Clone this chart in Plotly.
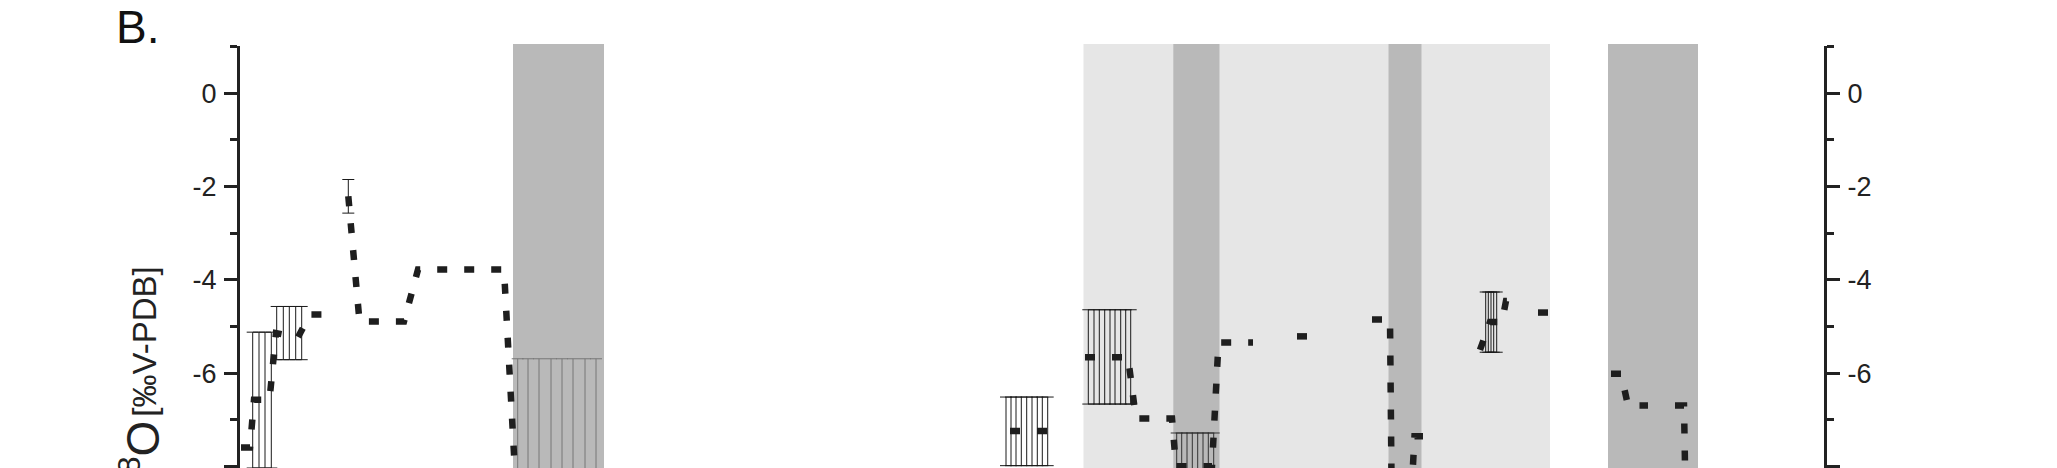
import plotly.graph_objects as go

# d18O record, x in depth units of the (hidden) bottom axis; None = gap in the record
depth = [0.1, 1.0, 1.4, 2.95, 3.6, 5.8, 7.0, 8.6, None,
         10.83, 11.95, 16.4, 17.8, 26.4, 28.1, None,
         77.0, 80.8, None,
         84.5, 88.8, 89.6, 93.2, 93.6, 97.2, 97.85, 101.3, None,
         105.7, 106.7, None,
         113.2, 115.0, 115.25, None,
         117.3, 117.45, 118.4, None,
         124.0, 125.0, 126.2, 126.6, 127.0, None,
         129.8, 130.8, None,
         137.1, 138.1, 138.8, 140.8, None,
         143.5, 144.4, 144.7]
d18o = [-7.59, -7.59, -6.57, -6.57, -5.14, -5.23, -4.74, -4.74, None,
        -2.21, -4.89, -4.89, -3.78, -3.78, -10.5, None,
        -7.24, -7.24, None,
        -5.66, -5.66, -6.97, -6.97, -7.99, -7.99, -5.34, -5.34, None,
        -5.21, -5.21, None,
        -4.85, -4.85, -10.5, None,
        -7.96, -7.35, -7.35, None,
        -5.5, -4.9, -4.9, -4.45, -4.45, None,
        -4.7, -4.7, None,
        -6.01, -6.01, -6.69, -6.69, None,
        -6.69, -6.69, -10.5]

# error ranges (top / bottom of the bars) for groups of samples
err_groups = [
    # depths, top, bottom, colour
    ([1.27, 1.9, 2.5, 3.13], -5.12, -8.03, "#1a1a1a"),
    ([3.67, 4.33, 4.93, 5.57, 6.17], -4.57, -5.71, "#1a1a1a"),
    ([10.83], -1.85, -2.57, "#1a1a1a"),
    ([27.77, 28.8, 29.9, 31.1, 32.2, 33.3, 34.5, 35.6], -5.69, -12.0, "#777777"),
    ([76.6, 77.1, 77.6, 78.13, 78.67, 79.2, 79.73, 80.23, 80.77], -6.51, -7.98, "#1a1a1a"),
    ([84.83, 85.4, 85.93, 86.47, 87.0, 87.5, 88.07, 88.57, 89.07], -4.64, -6.66, "#1a1a1a"),
    ([93.67, 94.17, 94.7, 95.23, 95.77, 96.3, 96.83, 97.37], -7.28, -12.0, "#333333"),
    ([124.57, 124.83, 125.1, 125.37, 125.67], -4.26, -5.55, "#1a1a1a"),
]

# shaded intervals
light_start = [84.35]
light_end = [131.0]
dark_start = [27.3, 93.33, 114.85, 136.8]
dark_end = [36.4, 97.95, 118.15, 145.8]

tick_vals = [0, -2, -4, -6, -8]
tick_text = ["0", "-2", "-4", "-6", "-8"]
minor_vals = [1, -1, -3, -5, -7]

font_family = "Liberation Sans, Arial, sans-serif"

fig = go.Figure()

for xs, top, bot, col in err_groups:
    mid = (top + bot) / 2
    fig.add_trace(go.Scatter(
        x=xs, y=[mid] * len(xs), mode="markers",
        marker=dict(size=1, color="rgba(0,0,0,0)"),
        error_y=dict(type="data", symmetric=False,
                     array=[top - mid] * len(xs),
                     arrayminus=[mid - bot] * len(xs),
                     color=col, thickness=1, width=6),
        showlegend=False, hoverinfo="skip"))

fig.add_trace(go.Scatter(
    x=depth, y=d18o, mode="lines",
    line=dict(color="#1e1e1e", width=6.5, dash="10px,17px", simplify=False),
    connectgaps=False, showlegend=False))

shapes = []
for a, b in zip(light_start, light_end):
    shapes.append(dict(type="rect", xref="x", yref="paper", x0=a, x1=b, y0=0, y1=1.005,
                       fillcolor="#e6e6e6", line_width=0, layer="below"))
for a, b in zip(dark_start, dark_end):
    shapes.append(dict(type="rect", xref="x", yref="paper", x0=a, x1=b, y0=0, y1=1.005,
                       fillcolor="#b9b9b9", line_width=0, layer="below"))

yax = dict(range=[-8.03, 1.01], tickvals=tick_vals, ticktext=tick_text,
           ticks="outside", ticklen=13, tickwidth=3, tickcolor="#222",
           showline=True, linewidth=3, linecolor="#222",
           showgrid=False, zeroline=False, automargin=False,
           ticklabelstandoff=2,
           tickfont=dict(family=font_family, size=27, color="#222"),
           minor=dict(tickvals=minor_vals, ticks="outside", ticklen=7,
                      tickwidth=3, tickcolor="#222", showgrid=False))

# page body has an 8px margin, so the figure is 8px smaller than the window
fig.update_layout(
    width=2049, height=460,
    margin=dict(l=232, r=233, t=38, b=0, autoexpand=False),
    paper_bgcolor="white", plot_bgcolor="white",
    xaxis=dict(range=[0, 158.4], visible=False, showgrid=False, zeroline=False),
    yaxis=yax,
    yaxis2=dict(yax, overlaying="y", side="right", anchor="x"),
    shapes=shapes,
    annotations=[
        dict(text="B.", xref="paper", yref="paper", x=-0.0795, y=1.045,
             xanchor="left", yanchor="middle", showarrow=False,
             font=dict(family=font_family, size=46, color="#111")),
        dict(text="[‰V-PDB]",
             xref="paper", yref="paper", x=-0.0608, y=0.481, textangle=-90,
             xanchor="center", yanchor="top", showarrow=False,
             font=dict(family=font_family, size=33, color="#222")),
        dict(text="δ<sup>18</sup>O",
             xref="paper", yref="paper", x=-0.0633, y=0.117, textangle=-90,
             xanchor="center", yanchor="top", showarrow=False,
             font=dict(family=font_family, size=46, color="#222")),
    ],
)

# dummy trace so the right axis is drawn
fig.add_trace(go.Scatter(x=[None], y=[None], yaxis="y2", showlegend=False))

fig.write_html("out.html")
